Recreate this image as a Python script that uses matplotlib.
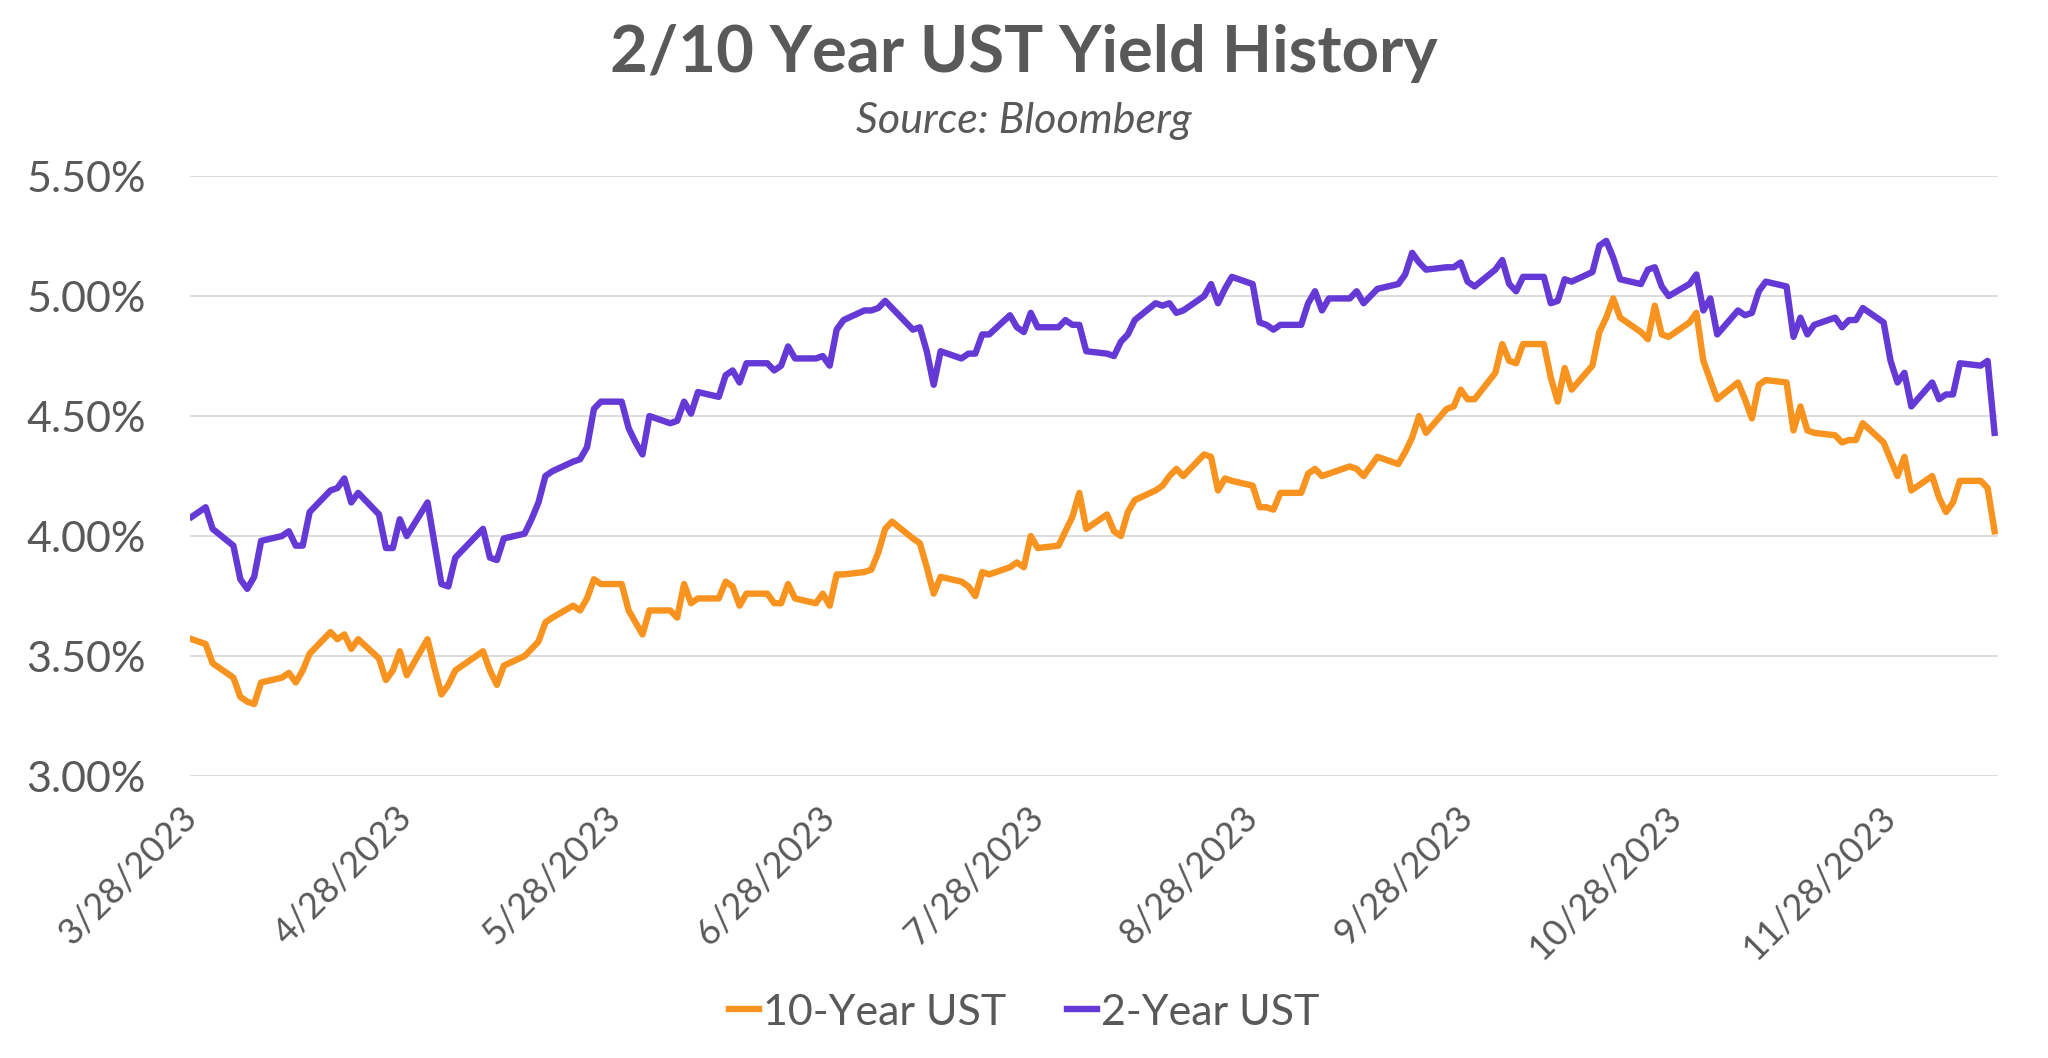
import matplotlib
matplotlib.use('Agg')
import matplotlib.pyplot as plt
import pandas as pd

plt.rcParams['font.family'] = ['Lato', 'DejaVu Sans']

# business days 3/28/2023 - 12/13/2023 (holidays carry previous value)
dates = pd.bdate_range('2023-03-28', '2023-12-13')

y2 = [4.08, 4.10, 4.12, 4.03,
      3.96, 3.82, 3.78, 3.83, 3.98,
      4.00, 4.02, 3.96, 3.96, 4.10,
      4.19, 4.20, 4.24, 4.14, 4.18,
      4.09, 3.95, 3.95, 4.07, 4.00,
      4.14, 3.97, 3.80, 3.79, 3.91,
      4.00, 4.03, 3.91, 3.90, 3.99,
      4.01, 4.07, 4.14, 4.25, 4.27,
      4.31, 4.32, 4.37, 4.53, 4.56,
      4.56, 4.45, 4.39, 4.34, 4.50,
      4.47, 4.48, 4.56, 4.51, 4.60,
      4.58, 4.67, 4.69, 4.64, 4.72,
      4.72, 4.69, 4.71, 4.79, 4.74,
      4.74, 4.75, 4.71, 4.86, 4.90,
      4.94, 4.94, 4.95, 4.98, 4.95,
      4.86, 4.87, 4.77, 4.63, 4.77,
      4.74, 4.76, 4.76, 4.84, 4.84,
      4.92, 4.87, 4.85, 4.93, 4.87,
      4.87, 4.90, 4.88, 4.88, 4.77,
      4.76, 4.75, 4.81, 4.84, 4.90,
      4.97, 4.96, 4.97, 4.93, 4.94,
      5.00, 5.05, 4.97, 5.03, 5.08,
      5.05, 4.89, 4.88, 4.86, 4.88,
      4.88, 4.97, 5.02, 4.94, 4.99,
      4.99, 5.02, 4.97, 5.00, 5.03,
      5.05, 5.09, 5.18, 5.14, 5.11,
      5.12, 5.12, 5.14, 5.06, 5.04,
      5.11, 5.15, 5.05, 5.02, 5.08,
      5.08, 4.97, 4.98, 5.07, 5.06,
      5.10, 5.21, 5.23, 5.16, 5.07,
      5.05, 5.11, 5.12, 5.04, 5.00,
      5.05, 5.09, 4.94, 4.99, 4.84,
      4.94, 4.92, 4.93, 5.02, 5.06,
      5.04, 4.83, 4.91, 4.84, 4.88,
      4.91, 4.87, 4.90, 4.90, 4.95,
      4.89, 4.73, 4.64, 4.68, 4.54,
      4.64, 4.57, 4.59, 4.59, 4.72,
      4.71, 4.73, 4.43]

y10 = [3.57, 3.56, 3.55, 3.47,
       3.41, 3.33, 3.31, 3.30, 3.39,
       3.41, 3.43, 3.39, 3.44, 3.51,
       3.60, 3.57, 3.59, 3.53, 3.57,
       3.49, 3.40, 3.44, 3.52, 3.42,
       3.57, 3.45, 3.34, 3.38, 3.44,
       3.50, 3.52, 3.44, 3.38, 3.46,
       3.50, 3.53, 3.56, 3.64, 3.66,
       3.71, 3.69, 3.74, 3.82, 3.80,
       3.80, 3.69, 3.64, 3.59, 3.69,
       3.69, 3.66, 3.80, 3.72, 3.74,
       3.74, 3.81, 3.79, 3.71, 3.76,
       3.76, 3.72, 3.72, 3.80, 3.74,
       3.72, 3.76, 3.71, 3.84, 3.84,
       3.85, 3.86, 3.93, 4.03, 4.06,
       3.99, 3.97, 3.87, 3.76, 3.83,
       3.81, 3.79, 3.75, 3.85, 3.84,
       3.87, 3.89, 3.87, 4.00, 3.95,
       3.96, 4.02, 4.08, 4.18, 4.03,
       4.09, 4.02, 4.00, 4.10, 4.15,
       4.19, 4.21, 4.25, 4.28, 4.25,
       4.34, 4.33, 4.19, 4.24, 4.23,
       4.21, 4.12, 4.12, 4.11, 4.18,
       4.18, 4.26, 4.28, 4.25, 4.26,
       4.29, 4.28, 4.25, 4.29, 4.33,
       4.30, 4.35, 4.41, 4.50, 4.43,
       4.53, 4.54, 4.61, 4.57, 4.57,
       4.68, 4.80, 4.73, 4.72, 4.80,
       4.80, 4.66, 4.56, 4.70, 4.61,
       4.71, 4.85, 4.91, 4.99, 4.91,
       4.85, 4.82, 4.96, 4.84, 4.83,
       4.89, 4.93, 4.73, 4.65, 4.57,
       4.64, 4.57, 4.49, 4.63, 4.65,
       4.64, 4.44, 4.54, 4.44, 4.43,
       4.42, 4.39, 4.40, 4.40, 4.47,
       4.39, 4.32, 4.25, 4.33, 4.19,
       4.25, 4.16, 4.10, 4.14, 4.23,
       4.23, 4.20, 4.02]

tick_dates = pd.date_range('2023-03-01', '2023-11-01', freq='MS') + pd.Timedelta(days=27)
tick_labels = ['%d/%d/%d' % (d.month, d.day, d.year) for d in tick_dates]
y_ticks = [3.0, 3.5, 4.0, 4.5, 5.0, 5.5]

ORANGE = '#F7931E'
PURPLE = '#6539D6'
GREY = '#595959'

fig = plt.figure(figsize=(20.48, 10.58), dpi=100)
ax = fig.add_axes([0.0928, 0.2665, 0.8828, 0.5671])

ax.plot(dates, y10, color=ORANGE, lw=4.6, label='10-Year UST')
ax.plot(dates, y2, color=PURPLE, lw=4.6, label='2-Year UST')

ax.set_ylim(3.0, 5.5)
ax.set_yticks(y_ticks)
ax.set_yticklabels(['%.2f%%' % v for v in y_ticks])
ax.set_xlim(dates[0] - pd.Timedelta(hours=6), dates[-1] + pd.Timedelta(hours=12))
ax.set_xticks(tick_dates)
ax.set_xticklabels(tick_labels, rotation=45, ha='right', va='center',
                   rotation_mode='anchor')

ax.grid(axis='y', color='#D9D9D9', lw=1.3)
ax.set_axisbelow(True)
for s in ax.spines.values():
    s.set_visible(False)
ax.tick_params(axis='y', length=0, pad=32, labelsize=31, labelcolor=GREY)
ax.tick_params(axis='x', length=0, pad=26, labelsize=26, labelcolor=GREY)

fig.text(0.5, 0.949, '2/10 Year UST Yield History', ha='center', va='center',
         fontsize=47, fontweight='bold', color=GREY)
fig.text(0.5, 0.886, 'Source: Bloomberg', ha='center', va='center',
         fontsize=31, style='italic', color=GREY)

fig.legend(loc='center', bbox_to_anchor=(0.5, 0.043), ncol=2, frameon=False,
           fontsize=31, labelcolor=GREY, handlelength=0.7, handletextpad=0.1,
           columnspacing=1.4)

fig.savefig('out.png', dpi=100, facecolor='white')
